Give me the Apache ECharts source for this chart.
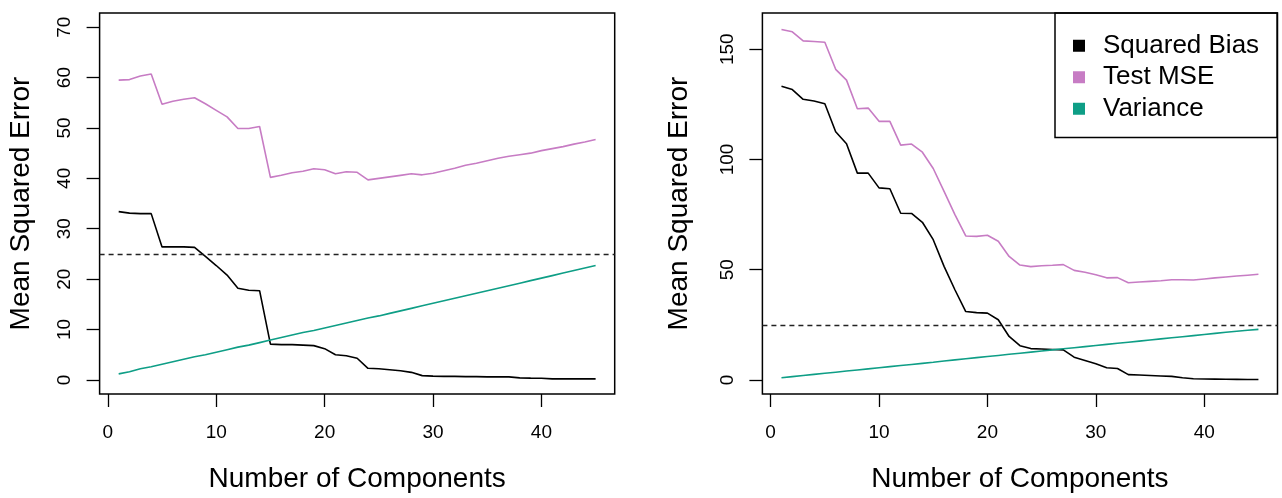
<!DOCTYPE html>
<html>
<head>
<meta charset="utf-8">
<script src="https://cdn.jsdelivr.net/npm/echarts@6/dist/echarts.min.js"></script>
<style>
html,body{margin:0;padding:0;background:#fff;}
#chart{width:1282px;height:498px;}
</style>
</head>
<body>
<div id="chart"></div>
<script>
// ---- data ----
const components = [1,2,3,4,5,6,7,8,9,10,11,12,13,14,15,16,17,18,19,20,21,22,23,24,25,26,27,28,29,30,31,32,33,34,35,36,37,38,39,40,41,42,43,44,45];

const leftBias = [33.4,33.1,33.0,33.0,26.4,26.4,26.4,26.3,24.5,22.7,20.8,18.2,17.8,17.7,7.1,7.0,7.0,6.9,6.8,6.2,5.0,4.8,4.3,2.3,2.2,2.0,1.8,1.5,0.85,0.75,0.7,0.7,0.65,0.65,0.6,0.6,0.6,0.4,0.35,0.33,0.2,0.2,0.2,0.2,0.2];
const leftMSE = [59.5,59.6,60.3,60.7,54.7,55.3,55.7,56.0,54.8,53.5,52.2,49.9,49.9,50.3,40.2,40.6,41.1,41.4,41.9,41.7,40.9,41.3,41.2,39.7,40.0,40.3,40.6,40.9,40.7,41.0,41.5,42.0,42.6,43.0,43.5,44.0,44.4,44.7,45.0,45.5,45.9,46.3,46.8,47.2,47.7];
const leftVar = [1.2,1.6,2.2,2.6,3.1,3.6,4.1,4.6,5.0,5.5,6.0,6.5,6.9,7.4,7.9,8.4,8.9,9.4,9.8,10.3,10.8,11.3,11.8,12.3,12.7,13.2,13.7,14.2,14.7,15.2,15.7,16.2,16.7,17.2,17.7,18.2,18.7,19.2,19.7,20.2,20.7,21.2,21.7,22.2,22.7];

const rightBias = [133.2,131.7,127.3,126.5,125.3,112.6,107.1,93.8,93.8,87.1,86.7,75.6,75.5,71.5,63.6,51.5,40.9,31.0,30.5,30.3,27.3,19.7,15.5,14.2,14.0,13.8,13.6,10.3,8.8,7.3,5.5,5.2,2.4,2.2,2.0,1.8,1.6,1.0,0.5,0.4,0.35,0.3,0.25,0.2,0.2];
const rightMSE = [159.0,157.9,153.8,153.5,153.2,140.9,136.0,123.0,123.3,117.3,117.3,106.5,107.0,103.3,95.9,85.5,75.0,65.3,65.1,65.6,62.9,56.0,52.1,51.4,51.8,52.0,52.3,49.7,48.8,47.7,46.3,46.4,44.1,44.4,44.7,45.0,45.4,45.4,45.3,45.8,46.3,46.7,47.1,47.5,47.9];
const rightVar = [1.0,1.5,2.0,2.5,3.0,3.5,4.0,4.5,5.0,5.5,6.0,6.5,7.0,7.5,8.0,8.6,9.1,9.6,10.1,10.6,11.1,11.6,12.1,12.6,13.1,13.6,14.1,14.6,15.1,15.6,16.1,16.6,17.1,17.6,18.1,18.6,19.1,19.6,20.1,20.6,21.1,21.6,22.1,22.5,22.9];

const xTicks = [0,10,20,30,40];
const leftYTicks = [0,10,20,30,40,50,60,70];
const rightYTicks = [0,50,100,150];
const refLevel = 25;

const seriesNames = ['Squared Bias','Test MSE','Variance'];
const xTitle = 'Number of Components';
const yTitle = 'Mean Squared Error';

// ---- styling ----
const FONT = '"Liberation Sans", Arial, Helvetica, sans-serif';
const colors = {'Squared Bias':'#000000','Test MSE':'#c77cc4','Variance':'#0e9e86'};

function pairs(ys){ return components.map((c,i)=>[c, ys[i]]); }

function xAxisCfg(gi){
  return {
    type:'value', gridIndex:gi, min:-0.76, max:46.76,
    name:xTitle, nameLocation:'middle', nameGap:71,
    nameTextStyle:{fontFamily:FONT,fontSize:28,color:'#000'},
    axisLine:{show:false,onZero:false},
    splitLine:{show:false},
    axisTick:{show:true,inside:false,length:13,customValues:xTicks,lineStyle:{color:'#000',width:1.3}},
    axisLabel:{show:true,customValues:xTicks,margin:29,fontFamily:FONT,fontSize:19,color:'#000'}
  };
}
function yAxisCfg(gi,min,max,ticks,gap){
  return {
    type:'value', gridIndex:gi, min:min, max:max,
    name:yTitle, nameLocation:'middle', nameGap:gap, nameRotate:90,
    nameTextStyle:{fontFamily:FONT,fontSize:28,color:'#000'},
    axisLine:{show:false,onZero:false},
    splitLine:{show:false},
    axisTick:{show:true,inside:false,length:13,customValues:ticks,lineStyle:{color:'#000',width:1.3}},
    axisLabel:{show:true,customValues:ticks,rotate:90,margin:25,fontFamily:FONT,fontSize:19,color:'#000'}
  };
}
function line(name,gi,ys,withRef){
  const s = {
    name:name, type:'line', xAxisIndex:gi, yAxisIndex:gi,
    data:pairs(ys), symbol:'none', silent:true, animation:false,
    lineStyle:{color:colors[name],width:1.6}, itemStyle:{color:colors[name]}
  };
  if(withRef){
    s.markLine = {silent:true,symbol:'none',label:{show:false},animation:false,
      lineStyle:{color:'#222',type:[5,4],width:1.3},
      data:[{yAxis:refLevel}]};
  }
  return s;
}

const chart = echarts.init(document.getElementById('chart'),null,{renderer:'canvas'});
chart.setOption({
  animation:false,
  backgroundColor:'#fff',
  grid:[
    {left:99.6, top:13.1, width:515.1, height:381, show:true, borderColor:'#000', borderWidth:1.5, backgroundColor:'transparent'},
    {left:762.4, top:13.1, width:515.1, height:381, show:true, borderColor:'#000', borderWidth:1.5, backgroundColor:'transparent'}
  ],
  xAxis:[xAxisCfg(0), xAxisCfg(1)],
  yAxis:[yAxisCfg(0,-2.8,72.8,leftYTicks,64), yAxisCfg(1,-6.4,166.4,rightYTicks,69)],
  legend:{
    data:seriesNames.map(n=>({name:n,icon:'rect',itemStyle:{color:colors[n]}})),
    orient:'vertical', left:1055, top:13,
    padding:[17,18,13,18], itemGap:0,
    itemWidth:12, itemHeight:12,
    borderColor:'#000', borderWidth:1.5,
    selectedMode:false,
    textStyle:{fontFamily:FONT,fontSize:26,color:'#000',lineHeight:31.5,padding:[0,0,0,13]}
  },
  series:[
    line('Squared Bias',0,leftBias,true),
    line('Test MSE',0,leftMSE,false),
    line('Variance',0,leftVar,false),
    line('Squared Bias',1,rightBias,true),
    line('Test MSE',1,rightMSE,false),
    line('Variance',1,rightVar,false)
  ]
});
</script>
</body>
</html>
